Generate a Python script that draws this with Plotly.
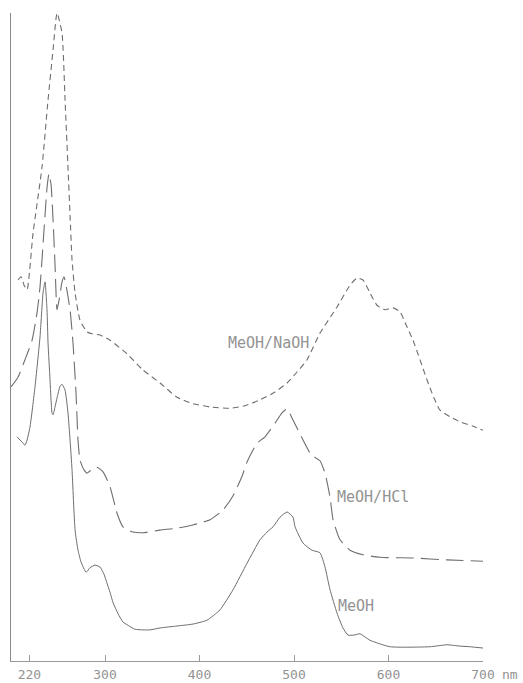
import plotly.graph_objects as go

# Wavelength (nm) and relative absorbance for each solvent system
meoh_nm = [206.9, 210.1, 212.2, 215.3, 217.5, 220.6, 225.9, 231.2, 234.4, 236.5,
           238.6, 239.7, 241.8, 243.9, 245.0, 247.1, 249.2, 252.4, 254.5, 257.7,
           260.8, 263.0, 265.1, 268.3, 271.4, 274.6, 279.9, 284.1, 289.4, 294.7,
           298.9, 302.1, 305.3, 308.5, 313.8, 319.0, 323.3, 331.7, 340.2, 347.6,
           358.2, 376.2, 393.1, 407.9, 421.7, 435.5, 450.3, 464.0, 471.4, 477.8,
           485.2, 492.6, 498.9, 501.1, 509.5, 519.0, 527.5, 532.8, 538.1, 545.5,
           551.8, 557.1, 563.5, 569.8, 580.4, 601.6, 643.9, 661.9, 675.7, 686.2,
           700.0]
meoh_abs = [0.346, 0.341, 0.338, 0.333, 0.341, 0.361, 0.423, 0.500, 0.568, 0.585,
            0.542, 0.491, 0.434, 0.383, 0.380, 0.392, 0.406, 0.424, 0.427, 0.418,
            0.383, 0.341, 0.295, 0.202, 0.171, 0.153, 0.137, 0.144, 0.148, 0.145,
            0.134, 0.120, 0.106, 0.090, 0.073, 0.060, 0.056, 0.049, 0.048, 0.048,
            0.051, 0.054, 0.057, 0.063, 0.079, 0.110, 0.151, 0.187, 0.199, 0.207,
            0.222, 0.230, 0.222, 0.207, 0.182, 0.171, 0.167, 0.145, 0.110, 0.074,
            0.051, 0.040, 0.040, 0.042, 0.032, 0.022, 0.022, 0.025, 0.023, 0.022,
            0.020]

hcl_nm = [200.5, 207.9, 215.3, 222.8, 228.0, 231.2, 233.3, 236.5, 238.6, 240.7,
          242.9, 245.0, 247.1, 249.2, 251.4, 254.5, 256.6, 258.7, 263.0, 266.1,
          269.3, 271.4, 273.5, 277.8, 281.0, 286.2, 291.5, 297.9, 305.3, 312.7,
          319.0, 329.6, 340.2, 358.2, 376.2, 393.1, 411.1, 424.9, 435.5, 445.0,
          450.3, 455.6, 460.8, 469.3, 479.9, 487.3, 492.6, 498.9, 508.5, 516.9,
          523.3, 527.5, 532.8, 538.1, 541.3, 548.7, 559.3, 573.0, 591.0, 625.9,
          661.9, 700.0]
hcl_abs = [0.423, 0.438, 0.465, 0.495, 0.537, 0.577, 0.619, 0.688, 0.730, 0.752,
           0.735, 0.681, 0.611, 0.542, 0.557, 0.585, 0.593, 0.580, 0.542, 0.491,
           0.414, 0.341, 0.310, 0.295, 0.290, 0.296, 0.299, 0.292, 0.269, 0.228,
           0.207, 0.199, 0.198, 0.202, 0.205, 0.210, 0.218, 0.233, 0.255, 0.285,
           0.307, 0.323, 0.336, 0.346, 0.367, 0.383, 0.389, 0.372, 0.344, 0.321,
           0.313, 0.309, 0.290, 0.253, 0.218, 0.187, 0.171, 0.164, 0.160, 0.159,
           0.156, 0.154]

naoh_nm = [207.9, 211.1, 214.3, 217.5, 223.8, 233.3, 239.7, 245.0, 249.2, 254.5,
           257.7, 260.8, 263.0, 265.1, 268.3, 273.5, 280.9, 286.2, 294.7, 305.3,
           323.3, 340.2, 358.2, 376.2, 393.1, 411.1, 432.3, 448.1, 464.0, 479.9,
           492.6, 503.2, 513.8, 527.5, 545.4, 559.3, 566.7, 573.0, 580.4, 587.8,
           596.3, 604.8, 612.2, 618.5, 625.9, 633.3, 640.7, 648.1, 654.5, 665.1,
           675.7, 688.4, 700.0]
naoh_abs = [0.588, 0.593, 0.580, 0.573, 0.660, 0.762, 0.866, 0.943, 1.000, 0.969,
            0.866, 0.762, 0.688, 0.619, 0.568, 0.526, 0.508, 0.505, 0.503, 0.495,
            0.474, 0.449, 0.429, 0.407, 0.397, 0.392, 0.390, 0.394, 0.403, 0.415,
            0.429, 0.446, 0.465, 0.506, 0.546, 0.580, 0.591, 0.588, 0.568, 0.549,
            0.542, 0.545, 0.539, 0.519, 0.495, 0.465, 0.434, 0.406, 0.387, 0.377,
            0.369, 0.363, 0.356]

tick_vals = [220, 300, 400, 500, 600, 700]
tick_text = ["220", "300", "400", "500", "600", "700"]

# Curve labels: (text, wavelength, absorbance)
labels = [("MeOH/NaOH", 472.5, 0.491),
          ("MeOH/HCl", 583.6, 0.253),
          ("MeOH", 565.6, 0.085)]

INK = "#6e6e6e"
TEXT = "#939393"
FONT = "DejaVu Sans Mono"

fig = go.Figure()
fig.add_trace(go.Scatter(x=naoh_nm, y=naoh_abs, mode="lines",
                         line=dict(color=INK, width=1.1, dash="6px,4px",
                                   shape="spline", smoothing=0.5)))
fig.add_trace(go.Scatter(x=hcl_nm, y=hcl_abs, mode="lines",
                         line=dict(color=INK, width=1.1, dash="18px,7px",
                                   shape="spline", smoothing=0.5)))
fig.add_trace(go.Scatter(x=meoh_nm, y=meoh_abs, mode="lines",
                         line=dict(color=INK, width=1.0,
                                   shape="spline", smoothing=0.5)))

for text, x, y in labels:
    fig.add_annotation(x=x, y=y, text=text, showarrow=False,
                       font=dict(family=FONT, size=15, color=TEXT))

fig.add_annotation(x=700, y=0, xref="x", yref="paper", text="nm",
                   showarrow=False, xanchor="left", yanchor="top",
                   xshift=17, yshift=-4,
                   font=dict(family=FONT, size=13, color=TEXT))

fig.update_layout(
    width=523, height=683,
    margin=dict(l=11, r=40, t=13, b=22, autoexpand=False),
    paper_bgcolor="white", plot_bgcolor="white",
    showlegend=False,
    xaxis=dict(range=[200.5, 700], showgrid=False, zeroline=False,
               automargin=False,
               showline=True, linecolor="#9a9a9a", linewidth=1,
               ticks="inside", ticklen=6, tickcolor="#9a9a9a",
               ticklabelstandoff=1,
               tickvals=tick_vals, ticktext=tick_text,
               tickfont=dict(family=FONT, size=13, color=TEXT)),
    yaxis=dict(range=[0, 1.0], showgrid=False, zeroline=False,
               automargin=False,
               showline=True, linecolor="#8a8a8a", linewidth=1,
               showticklabels=False, ticks=""),
)

fig.write_html("out.html")
